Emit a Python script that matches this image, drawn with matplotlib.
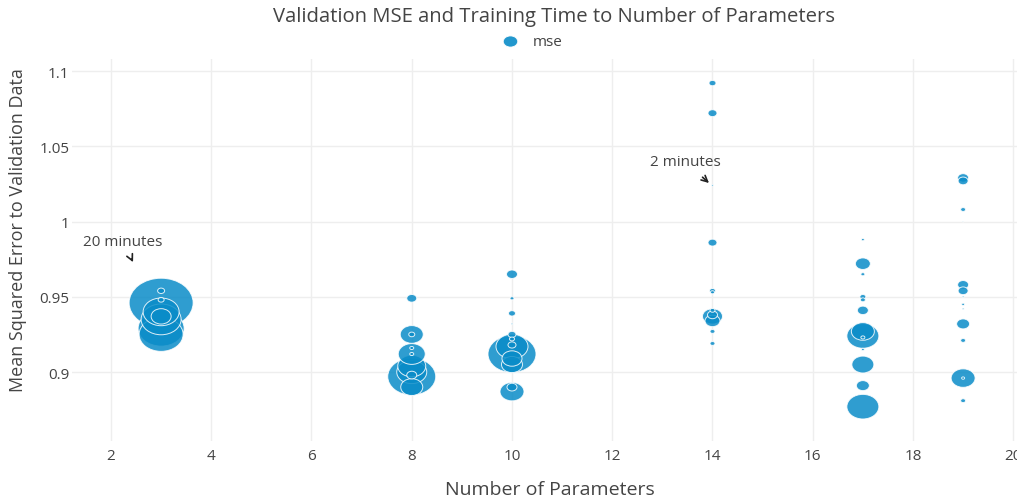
import matplotlib
matplotlib.use("Agg")
import matplotlib.pyplot as plt
from matplotlib.path import Path
from matplotlib.transforms import Affine2D

# === Data: number of parameters, validation MSE, bubble size (training time) ===
x_params = [3] * 8 + [8] * 11 + [10] * 13 + [14] * 12 + [17] * 13 + [19] * 14
mse = [
    # 3 params
    0.946, 0.954, 0.948, 0.940, 0.935, 0.929, 0.925, 0.937,
    # 8 params
    0.949, 0.925, 0.925, 0.912, 0.916, 0.912, 0.904, 0.897, 0.898, 0.890, 0.900,
    # 10 params
    0.965, 0.949, 0.939, 0.932, 0.925, 0.912, 0.922, 0.918, 0.917, 0.909, 0.905, 0.887, 0.890,
    # 14 params
    1.092, 1.072, 1.024, 0.986, 0.954, 0.953, 0.941, 0.937, 0.934, 0.938, 0.927, 0.919,
    # 17 params
    0.988, 0.972, 0.965, 0.950, 0.948, 0.941, 0.927, 0.924, 0.923, 0.915, 0.905, 0.891, 0.877,
    # 19 params
    1.029, 1.027, 1.008, 1.000, 0.958, 0.954, 0.950, 0.945, 0.942, 0.932, 0.921, 0.896, 0.896, 0.881,
]
train_time = [
    64, 7, 6, 36, 40, 46, 44, 20,
    10, 23, 6, 27, 4, 4, 28, 48, 10, 22, 30,
    11, 4, 7, 2, 8, 48, 5, 8, 32, 20, 21, 24, 10,
    7, 9, 2, 9, 6, 4, 5, 20, 15, 10, 5, 5,
    3, 15, 4, 6, 5, 11, 23, 32, 4, 3, 22, 13, 32,
    11, 10, 5, 1, 11, 10, 2, 3, 2, 13, 5, 24, 3, 5,
]
x_ticks = [2, 4, 6, 8, 10, 12, 14, 16, 18, 20]
y_ticks = [0.9, 0.95, 1.0, 1.05, 1.1]
y_tick_labels = ["0.9", "0.95", "1", "1.05", "1.1"]

plt.rcParams['font.family'] = ['Open Sans', 'DejaVu Sans']
text_color = '#444444'
bubble_color = '#0a8cc8'

fig = plt.figure(figsize=(10.17, 5.02), dpi=100)
W, H = 1017, 502
ax = fig.add_axes([72 / W, 1 - 442 / H, (W - 72) / W, (442 - 60) / H])

# ellipse marker (the reference is stretched horizontally)
ellipse = Path.unit_circle().transformed(Affine2D().scale(1.3, 1.0))

# draw big bubbles first so small ones stay visible
order = sorted(range(len(mse)), key=lambda i: -train_time[i])
xs = [x_params[i] for i in order]
ys = [mse[i] for i in order]
ss = [(0.72 * train_time[i]) ** 2 for i in order]
ax.scatter(xs, ys, s=ss, marker=ellipse, color=bubble_color, alpha=0.85,
           edgecolors='white', linewidths=0.7, zorder=3, label='mse')

ax.set_xlim(1.222, 20.075)
ax.set_ylim(0.8542, 1.108)
ax.set_xticks(x_ticks)
ax.set_yticks(y_ticks)
ax.set_yticklabels(y_tick_labels)
ax.grid(True, color='#eeeeee', linewidth=1)
ax.set_axisbelow(True)
for sp in ax.spines.values():
    sp.set_visible(False)
ax.tick_params(length=0, labelsize=11, colors=text_color)
ax.tick_params(axis='x', pad=5)
ax.tick_params(axis='y', pad=2)

ax.set_xlabel("Number of Parameters", fontsize=14, color=text_color)
ax.xaxis.set_label_coords((550 - 72) / (W - 72), -(490 - 442) / (442 - 60))
ax.xaxis.label.set_va('center')
ax.set_ylabel("Mean Squared Error to Validation Data", fontsize=13, color=text_color)
ax.yaxis.set_label_coords(-(72 - 18) / (W - 72), (442 - 230) / (442 - 60))
ax.yaxis.label.set_va('center')

# annotations
ax.annotate("20 minutes", xy=(2.44, 0.973), xytext=(2.24, 0.987),
            ha='center', va='center', fontsize=11, color=text_color,
            arrowprops=dict(arrowstyle='->', color='#222222', lw=1.2, shrinkA=6, shrinkB=0))
ax.annotate("2 minutes", xy=(13.93, 1.0256), xytext=(13.45, 1.040),
            ha='center', va='center', fontsize=11, color=text_color,
            arrowprops=dict(arrowstyle='->', color='#222222', lw=1.2, shrinkA=6, shrinkB=0))

fig.text(0.545, 1 - 17 / H, "Validation MSE and Training Time to Number of Parameters",
         ha='center', va='center', fontsize=14.6, color=text_color)
leg = fig.legend(*ax.get_legend_handles_labels(), loc='center', bbox_to_anchor=(0.52, 1 - 43 / H),
                 frameon=False, fontsize=11, handletextpad=0.5, markerscale=1)
for h in leg.legend_handles:
    h.set_sizes([110])
    h.set_alpha(0.9)
for t in leg.get_texts():
    t.set_color(text_color)

fig.savefig("out.png", dpi=100)
